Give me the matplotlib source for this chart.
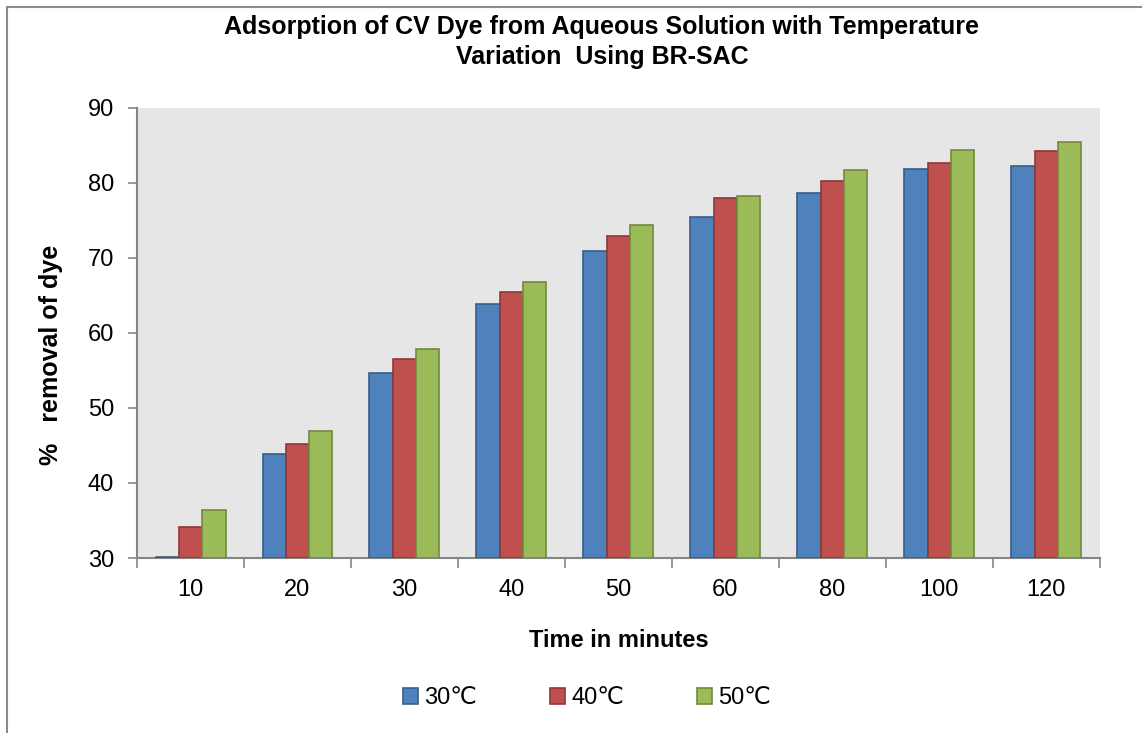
import matplotlib.pyplot as plt
import numpy as np
from matplotlib.patches import Rectangle

# 数据
times = ['10', '20', '30', '40', '50', '60', '80', '100', '120']
t30 = [30.2, 43.8, 54.6, 63.9, 70.9, 75.5, 78.7, 81.9, 82.3]
t40 = [34.2, 45.2, 56.5, 65.4, 72.9, 78.0, 80.3, 82.7, 84.2]
t50 = [36.4, 46.9, 57.9, 66.8, 74.4, 78.3, 81.7, 84.4, 85.5]
labels = ['30℃', '40℃', '50℃']

plt.rcParams['font.family'] = ['Liberation Sans', 'DejaVu Sans']

fig = plt.figure(figsize=(11.42, 7.33), dpi=100)
ax = fig.add_axes([0.12, 0.2387, 0.843, 0.6143])
ax.set_facecolor('#E6E6E6')

# 外框
fig.patches.append(Rectangle((7 / 1142, -0.01), 1.2, 1 - 7 / 733 + 0.01, transform=fig.transFigure,
                             fill=False, edgecolor='#8C8C8C', linewidth=1.5))

x = np.arange(len(times))
w = 0.218
series = [t30, t40, t50]
faces = ['#4F81BD', '#C0504D', '#9BBB59']
edges = ['#385D8A', '#8C3836', '#71893F']
for i, (vals, fc, ec, lab) in enumerate(zip(series, faces, edges, labels)):
    ax.bar(x + (i - 1) * w, np.array(vals) - 30, width=w, bottom=30, color=fc,
           edgecolor=ec, linewidth=1.2, label=lab, zorder=3)

ax.set_xlim(-0.5, len(times) - 0.5)
ax.set_ylim(30, 90)
ax.set_yticks(range(30, 91, 10))
ax.set_xticks(x)
ax.set_xticklabels(times, fontsize=17)
ax.tick_params(axis='y', labelsize=17, direction='out', length=6.5, color='#868686',
               width=1.2, pad=10)
ax.tick_params(axis='x', length=0, pad=15)
# 类别边界刻度
ax.set_xticks(np.arange(-0.5, len(times), 1), minor=True)
ax.tick_params(axis='x', which='minor', direction='out', length=7, color='#868686', width=1.2)

for s in ['top', 'right']:
    ax.spines[s].set_visible(False)
for s in ['left', 'bottom']:
    ax.spines[s].set_color('#868686')
    ax.spines[s].set_linewidth(1.5)

ax.set_xlabel('Time in minutes', fontsize=17, fontweight='bold')
ax.xaxis.set_label_coords(0.5, -0.157)
ax.set_ylabel('%   removal of dye', fontsize=18, fontweight='bold')
ax.yaxis.set_label_coords(-0.077, 0.451)

fig.text(0.527, 0.943, 'Adsorption of CV Dye from Aqueous Solution with Temperature\nVariation  Using BR-SAC',
         ha='center', va='center', fontsize=18, fontweight='bold', linespacing=1.3)

fig.legend(loc='center', bbox_to_anchor=(0.514, 1 - 698 / 733), ncol=3, frameon=False,
           fontsize=17, handlelength=0.64, handleheight=0.64, handletextpad=0.25,
           columnspacing=3.1)

fig.savefig('out.png', dpi=100)
